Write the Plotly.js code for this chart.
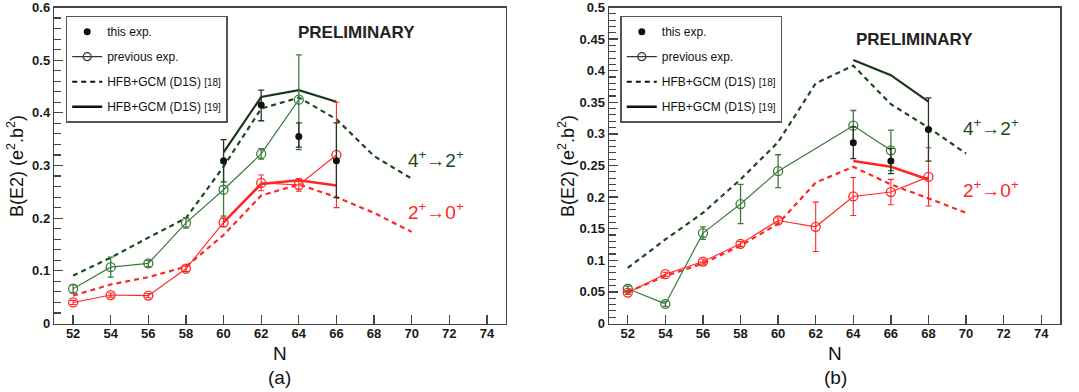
<!DOCTYPE html>
<html>
<head>
<meta charset="utf-8">
<script src="https://cdn.plot.ly/plotly-3.0.1.min.js"></script>
<style>html,body{margin:0;padding:0;background:#fff;}#chart{width:1079px;height:392px;}</style>
</head>
<body>
<div id="chart"></div>
<script>
// ---------- data ----------
const N_theory = [52, 54, 56, 58, 60, 62, 64, 66, 68, 70];

// Panel (a)
const a_th18_42 = [0.091, 0.125, 0.163, 0.200, 0.298, 0.408, 0.429, 0.388, 0.318, 0.275];
const a_th18_20 = [0.053, 0.074, 0.088, 0.108, 0.168, 0.243, 0.264, 0.240, 0.210, 0.174];
const a_th19_N = [60, 62, 64, 66];
const a_th19_42 = [0.325, 0.430, 0.443, 0.421];
const a_th19_20 = [0.192, 0.265, 0.272, 0.262];
const a_prev42_N = [52, 54, 56, 58, 60, 62, 64];
const a_prev42 = [0.066, 0.107, 0.114, 0.191, 0.254, 0.322, 0.425];
const a_prev42_errP = [0.008, 0.019, 0.006, 0.010, 0.050, 0.010, 0.085];
const a_prev42_errM = [0.008, 0.019, 0.006, 0.010, 0.050, 0.010, 0.095];
const a_prev20_N = [52, 54, 56, 58, 60, 62, 64, 66];
const a_prev20 = [0.040, 0.054, 0.053, 0.104, 0.192, 0.267, 0.263, 0.320];
const a_prev20_err = [0.004, 0.004, 0.004, 0.005, 0.008, 0.015, 0.012, 0.100];
const a_this_N = [60, 62, 64, 66];
const a_this = [0.309, 0.415, 0.355, 0.309];
const a_this_errP = [0.040, 0.028, 0.026, 0.072];
const a_this_errM = [0.040, 0.030, 0.020, 0.070];

// Panel (b)
const b_th18_42 = [0.088, 0.133, 0.175, 0.228, 0.287, 0.380, 0.408, 0.347, 0.310, 0.269];
const b_th18_20 = [0.050, 0.075, 0.095, 0.123, 0.158, 0.223, 0.248, 0.220, 0.198, 0.175];
const b_th19_N = [64, 66, 68];
const b_th19_42 = [0.417, 0.393, 0.351];
const b_th19_20 = [0.257, 0.248, 0.228];
const b_prev42_N = [52, 54, 56, 58, 60, 64, 66];
const b_prev42 = [0.055, 0.031, 0.143, 0.189, 0.241, 0.313, 0.274];
const b_prev42_err = [0.004, 0.004, 0.010, 0.031, 0.026, 0.024, 0.032];
const b_prev20_N = [52, 54, 56, 58, 60, 62, 64, 66, 68];
const b_prev20 = [0.049, 0.078, 0.098, 0.126, 0.163, 0.153, 0.201, 0.208, 0.232];
const b_prev20_err = [0.003, 0.003, 0.004, 0.004, 0.004, 0.039, 0.030, 0.020, 0.046];
const b_this_N = [64, 66, 68];
const b_this = [0.286, 0.257, 0.307];
const b_this_err = [0.025, 0.020, 0.050];

const xTickVals = [52, 54, 56, 58, 60, 62, 64, 66, 68, 70, 72, 74];

// ---------- styles ----------
const DKGREEN = '#1d4a1d';
const GREEN = '#3d7b3d';
const RED = '#ff2626';
const BLACK = '#111111';
const FONT = 'Liberation Sans, Arial, Helvetica, sans-serif';

function panel(sfx, d, legendName) {
  const xa = 'x' + sfx, ya = 'y' + sfx;
  const tr = [];
  tr.push({x: N_theory, y: d.th18_42, xaxis: xa, yaxis: ya, mode: 'lines', showlegend: false,
           line: {color: DKGREEN, width: 2.2, dash: '5px,4px'}});
  tr.push({x: N_theory, y: d.th18_20, xaxis: xa, yaxis: ya, mode: 'lines', showlegend: false,
           line: {color: RED, width: 2.2, dash: '5px,4px'}});
  tr.push({x: d.th19_N, y: d.th19_42, xaxis: xa, yaxis: ya, mode: 'lines', showlegend: false,
           line: {color: '#1a361a', width: 2.2}});
  tr.push({x: d.th19_N, y: d.th19_20, xaxis: xa, yaxis: ya, mode: 'lines', showlegend: false,
           line: {color: RED, width: 2.6}});
  tr.push({x: d.prev42_N, y: d.prev42, xaxis: xa, yaxis: ya, mode: 'lines+markers', showlegend: false,
           line: {color: GREEN, width: 1.2},
           marker: {symbol: 'circle-open', size: 9, color: GREEN, line: {width: 1.3}},
           error_y: {type: 'data', array: d.prev42_errP, arrayminus: d.prev42_errM, color: GREEN, thickness: 1.3, width: 3}});
  tr.push({x: d.prev20_N, y: d.prev20, xaxis: xa, yaxis: ya, mode: 'lines+markers', showlegend: false,
           line: {color: RED, width: 1.1},
           marker: {symbol: 'circle-open', size: 9, color: RED, line: {width: 1.3}},
           error_y: {type: 'data', array: d.prev20_err, color: RED, thickness: 1.1, width: 3}});
  tr.push({x: d.this_N, y: d.this, xaxis: xa, yaxis: ya, mode: 'markers', showlegend: false,
           marker: {symbol: 'circle', size: 7, color: BLACK},
           error_y: {type: 'data', array: d.this_errP, arrayminus: d.this_errM, color: '#1f3a1f', thickness: 1.3, width: 3}});
  // legend entries
  tr.push({x: [null], y: [null], xaxis: xa, yaxis: ya, mode: 'markers', name: 'this exp.',
           legend: legendName, legendgroup: sfx + 'g1', marker: {symbol: 'circle', size: 7, color: BLACK}});
  tr.push({x: [null], y: [null], xaxis: xa, yaxis: ya, mode: 'lines+markers', name: 'previous exp.',
           legend: legendName, legendgroup: sfx + 'g2', line: {color: '#333', width: 1.2},
           marker: {symbol: 'circle-open', size: 8, color: '#333', line: {width: 1.2}}});
  tr.push({x: [null], y: [null], xaxis: xa, yaxis: ya, mode: 'lines',
           name: 'HFB+GCM (D1S) <span style="font-size:10px">[18]</span>',
           legend: legendName, legendgroup: sfx + 'g3', line: {color: BLACK, width: 2, dash: '5px,4px'}});
  tr.push({x: [null], y: [null], xaxis: xa, yaxis: ya, mode: 'lines',
           name: 'HFB+GCM (D1S) <span style="font-size:10px">[19]</span>',
           legend: legendName, legendgroup: sfx + 'g4', line: {color: BLACK, width: 2.4}});
  return tr;
}

const traces = [].concat(
  panel('', {th18_42: a_th18_42, th18_20: a_th18_20, th19_N: a_th19_N, th19_42: a_th19_42, th19_20: a_th19_20,
             prev42_N: a_prev42_N, prev42: a_prev42, prev42_errP: a_prev42_errP, prev42_errM: a_prev42_errM,
             prev20_N: a_prev20_N, prev20: a_prev20, prev20_err: a_prev20_err,
             this_N: a_this_N, this: a_this, this_errP: a_this_errP, this_errM: a_this_errM}, 'legend'),
  panel('2', {th18_42: b_th18_42, th18_20: b_th18_20, th19_N: b_th19_N, th19_42: b_th19_42, th19_20: b_th19_20,
              prev42_N: b_prev42_N, prev42: b_prev42, prev42_errP: b_prev42_err, prev42_errM: b_prev42_err,
              prev20_N: b_prev20_N, prev20: b_prev20, prev20_err: b_prev20_err,
              this_N: b_this_N, this: b_this, this_errP: b_this_err, this_errM: b_this_err}, 'legend2')
);

const W = 1079, H = 392;
const px = v => v / W, py = v => 1 - v / H;
const yDomain = [py(323.5), py(7.5)];
const TICKFONT = {family: FONT, size: 13, color: '#1a1a1a', weight: 'bold'};

function xAxis(dom, anchor) {
  return {domain: dom, anchor: anchor, range: [51, 75], tickvals: xTickVals, ticks: 'inside', ticklen: 9,
          tickcolor: '#444', tickwidth: 1.3, showline: true, linecolor: '#444', linewidth: 1.5, mirror: true,
          ticklabelstandoff: -3,
          showgrid: false, zeroline: false, tickfont: TICKFONT};
}
function yAxis(range, dtick, minor, anchor) {
  return {domain: yDomain, anchor: anchor, range: range, dtick: dtick, tick0: 0, ticks: 'inside', ticklen: 9,
          tickcolor: '#444', tickwidth: 1.3, showline: true, linecolor: '#444', linewidth: 1.5, mirror: true,
          showgrid: false, zeroline: false, tickfont: TICKFONT,
          minor: {dtick: minor, ticks: 'inside', ticklen: 7, tickcolor: '#444', tickwidth: 1.1, showgrid: false}};
}

const legendBase = {yanchor: 'top', xanchor: 'left', bgcolor: '#fff', bordercolor: '#555', borderwidth: 1.5,
                    font: {family: FONT, size: 12, color: '#111'}, traceorder: 'grouped', tracegroupgap: 6};

function ann(text, x, y, size, color, extra) {
  return Object.assign({text: text, x: px(x), y: py(y), xref: 'paper', yref: 'paper', showarrow: false,
                        xanchor: 'center', yanchor: 'middle', font: {family: FONT, size: size, color: color}}, extra || {});
}

const layout = {
  width: W, height: H, margin: {l: 0, r: 0, t: 0, b: 0},
  paper_bgcolor: '#fff', plot_bgcolor: '#fff', showlegend: true,
  xaxis: xAxis([px(54.3), px(505.7)], 'y'),
  yaxis: yAxis([0, 0.6], 0.1, 0.02, 'x'),
  xaxis2: xAxis([px(609), px(1060)], 'y2'),
  yaxis2: yAxis([0, 0.5], 0.05, 0.01, 'x2'),
  legend: Object.assign({x: px(65.7), y: py(15.7)}, legendBase),
  legend2: Object.assign({x: px(620.3), y: py(15.7)}, legendBase),
  annotations: [
    ann('<b>PRELIMINARY</b>', 356.5, 32.5, 17, '#222'),
    ann('<b>PRELIMINARY</b>', 914.5, 39.5, 17, '#222'),
    ann('4<sup>+</sup>→2<sup>+</sup>', 436, 159, 19, DKGREEN),
    ann('2<sup>+</sup>→0<sup>+</sup>', 436, 211, 19, RED),
    ann('4<sup>+</sup>→2<sup>+</sup>', 991, 127, 19, DKGREEN),
    ann('2<sup>+</sup>→0<sup>+</sup>', 991, 188.5, 19, RED),
    ann('B(E2) (e<sup>2</sup>.b<sup>2</sup>)', 15, 166, 18, '#111', {textangle: -90}),
    ann('B(E2) (e<sup>2</sup>.b<sup>2</sup>)', 566, 166, 18, '#111', {textangle: -90}),
    ann('N', 280, 353.5, 19, '#111'),
    ann('N', 835, 353.5, 19, '#111'),
    ann('(a)', 280, 377, 19, '#111'),
    ann('(b)', 835, 377, 19, '#111')
  ]
};

Plotly.newPlot('chart', traces, layout, {displayModeBar: false, staticPlot: true});
</script>
</body>
</html>
